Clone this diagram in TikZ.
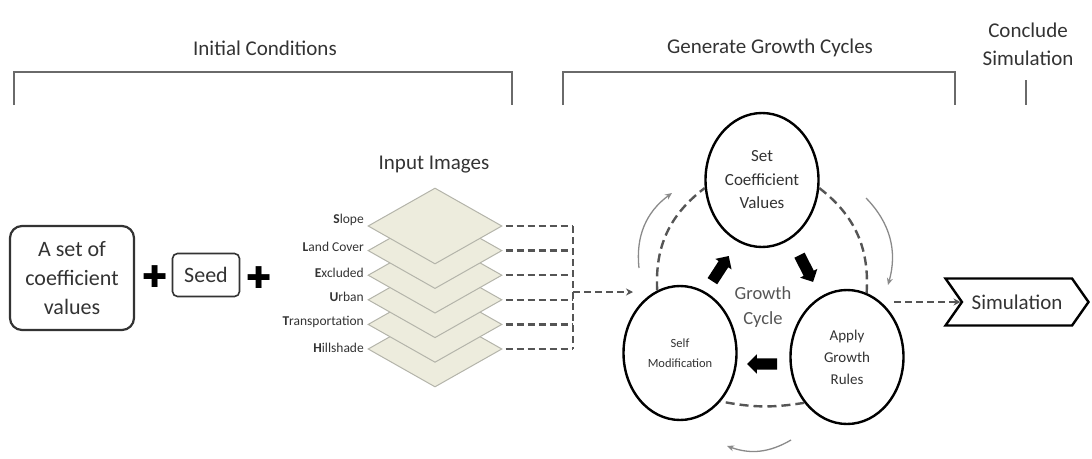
\documentclass[tikz,border=0pt]{standalone}
\usepackage{fontspec}
\setmainfont{Carlito}
\newfontfamily\dejavu{DejaVu Sans}
\usetikzlibrary{shapes.geometric,shapes.arrows,shapes.symbols,arrows.meta}
\definecolor{txt}{HTML}{333333}
\definecolor{brkc}{HTML}{6A6A6A}
\definecolor{dashc}{HTML}{555555}
\definecolor{layerfill}{HTML}{EDECDD}
\definecolor{layerdraw}{HTML}{B4B4AA}
\definecolor{arcc}{HTML}{8A8A8A}
\begin{document}
\begin{tikzpicture}[x=1pt,y=-1pt,
  hdr/.style={text=txt,font=\fontsize{21}{28}\selectfont,align=center},
  brk/.style={draw=brkc,line width=2.6pt},
  dsh/.style={draw=dashc,line width=2.4pt,dash pattern=on 7pt off 4pt},
  dsharrow/.style={dsh,-{Stealth[length=7pt,width=7pt]}},
  layer/.style={diamond,draw=layerdraw,fill=layerfill,line width=1pt,minimum width=134,minimum height=76,inner sep=0},
  lbl/.style={anchor=east,text=txt,font=\fontsize{13.5}{15}\selectfont,inner sep=0},
  cyc/.style={ellipse,draw=black,fill=white,line width=2.4pt,minimum width=113,minimum height=134,align=center,text=txt,inner sep=0},
  blk/.style={single arrow,fill=black,minimum height=30,inner sep=5.5pt,single arrow head extend=4pt,single arrow head indent=0pt},
  ring/.style={draw=dashc,line width=2.4pt,dash pattern=on 9pt off 5pt},
  outarr/.style={draw=arcc,line width=1.3pt,-{Stealth[length=7pt,width=6pt]}},
  plussign/.style={font=\dejavu\fontsize{30}{30}\selectfont,inner sep=0}
]
\useasboundingbox (0,0) rectangle (1092,458);

% headers
\node[hdr] (hic) at (265,48) {Initial Conditions};
\node[hdr] (hgc) at (770,48) {Generate Growth Cycles};
\node[hdr] (hcs) at (1028,44) {Conclude\\Simulation};
\draw[brk] (14,105) -- (14,72) -- (512,72) -- (512,105);
\draw[brk] (563,105) -- (563,72) -- (955,72) -- (955,105);
\draw[brk] (1026,80) -- (1026,105);

% coefficient box
\node[draw=txt,line width=2.2pt,rounded corners=12pt,minimum width=124,minimum height=104,align=center,text=txt,font=\fontsize{22}{29}\selectfont] (coef) at (72,278) {A set of\\coefficient\\values};
\node[plussign] (p1) at (155,277) {✚};
\node[draw=txt,line width=1.6pt,rounded corners=5pt,minimum width=67,minimum height=43,text=txt,font=\fontsize{22}{24}\selectfont] (seed) at (206,275) {Seed};
\node[plussign] (p2) at (259,278) {✚};

% input images
\node[hdr] (inimg) at (434,165) {Input Images};
\node[layer] (L6) at (435,349) {};
\node[layer] (L5) at (435,324.4) {};
\node[layer] (L4) at (435,299.8) {};
\node[layer] (L3) at (435,275.2) {};
\node[layer] (L2) at (435,250.6) {};
\node[layer] (L1) at (435,226) {};
\node[lbl] (t1) at (364,220) {\textbf{S}lope};
\node[lbl] (t2) at (364,247) {\textbf{L}and Cover};
\node[lbl] (t3) at (364,273) {\textbf{E}xcluded};
\node[lbl] (t4) at (364,297) {\textbf{U}rban};
\node[lbl] (t5) at (364,322) {\textbf{T}ransportation};
\node[lbl] (t6) at (364,348) {\textbf{H}illshade};

\coordinate (j1) at (573,226);
\coordinate (j6) at (573,349);
\coordinate (jm) at (573,292);
\coordinate (cin) at (633,292);
\foreach \i in {1,...,6} {
  \draw[dsh] ([xshift=3pt]L\i.east) -- (L\i.east -| j1);
}
\draw[dsh] (j1) -- (j6);
\draw[dsharrow] (jm) -- (cin);

% growth cycle
\node[cyc,font=\fontsize{17}{23.5}\selectfont] (set) at (762,180) {Set\\Coefficient\\Values};
\node[cyc,font=\fontsize{15}{22}\selectfont] (apply) at (847,357) {Apply\\Growth\\Rules};
\node[cyc,font=\fontsize{12.5}{20}\selectfont] (self) at (680,353) {Self\\Modification};
\draw[ring] (self.110) to[bend left=28] (set.188);
\draw[ring] (set.352) to[bend left=28] (apply.73);
\draw[ring] (apply.227) to[bend left=10] (self.310);

\node[text=dashc,font=\fontsize{18.5}{25}\selectfont,align=center] (gc) at (763,307) {Growth\\Cycle};

\node[blk,rotate=57] (b1) at (719,271) {};
\node[blk,rotate=-63] (b2) at (805,266) {};
\node[blk,rotate=180] (b3) at (765,364) {};

\coordinate (oa1) at (639,268);
\coordinate (oa2) at (672,193);
\coordinate (ob1) at (866,198);
\coordinate (ob2) at (888,285);
\coordinate (oc1) at (791,440);
\coordinate (oc2) at (727,446);
\draw[outarr] (oa1) to[bend left=30] (oa2);
\draw[outarr] (ob1) to[bend left=30] (ob2);
\draw[outarr] (oc1) to[bend left=25] (oc2);

% simulation
\node[signal,signal from=west,signal to=east,signal pointer angle=110,draw=black,line width=2.4pt,minimum width=143,minimum height=47,text=txt,font=\fontsize{21}{24}\selectfont] (sim) at (1017,302) {Simulation};
\coordinate (sout) at (894,302);
\draw[dsharrow] (sout) -- (sim.west);
\end{tikzpicture}
\end{document}
